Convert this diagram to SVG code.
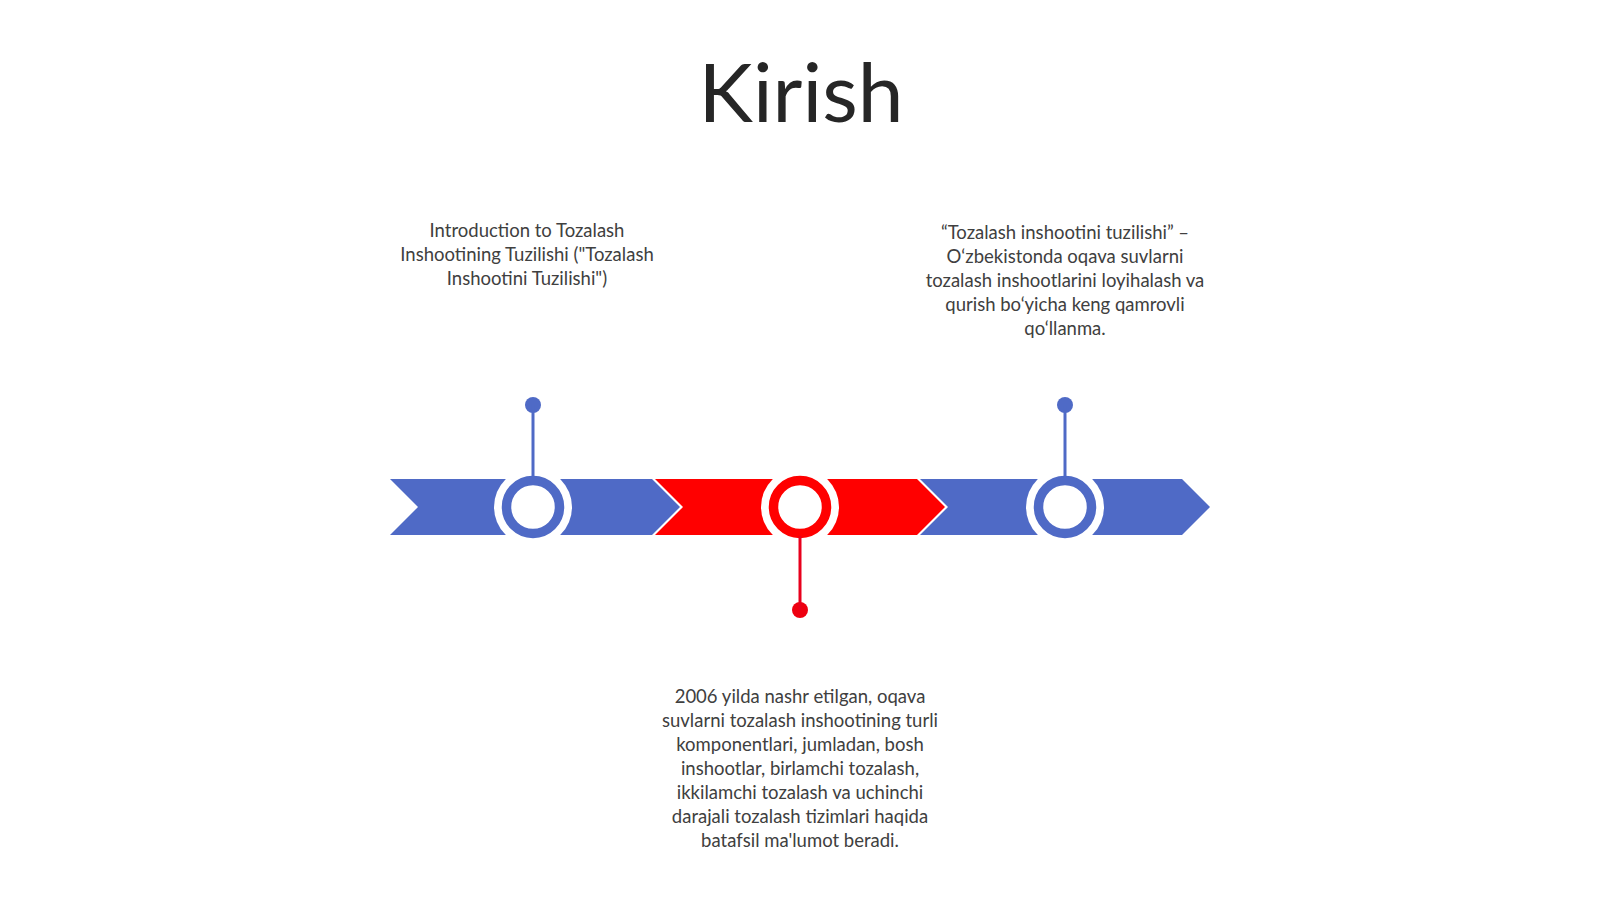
<svg xmlns="http://www.w3.org/2000/svg" width="1600" height="899" viewBox="0 0 1600 899">
<style>
.t{font-family:Lato,"Open Sans","Liberation Sans",sans-serif;font-size:18.5px;fill:#404040;text-anchor:middle}
.title{font-family:Lato,"Open Sans","Liberation Sans",sans-serif;font-size:82px;fill:#262626;text-anchor:middle}
.blue{fill:#4F6AC6}
.red{fill:#FF0000}
.halo{fill:#FFFFFF}
</style>
<rect width="1600" height="899" fill="#FFFFFF"/>
<text class="title" x="801" y="122">Kirish</text>
<g id="band">
<polygon class="blue" points="390,479 652,479 680,507 652,535 390,535 418,507"/>
<polygon class="red" points="655,479 917,479 945,507 917,535 655,535 683,507"/>
<polygon class="blue" points="920,479 1182,479 1210,507 1182,535 920,535 948,507"/>
</g>
<g id="node1">
<circle class="halo" cx="533" cy="507" r="39"/>
<circle cx="533" cy="507" r="26.5" fill="none" stroke="#4F6AC6" stroke-width="9.5"/>
<circle class="blue" cx="533" cy="405" r="8"/>
<text class="t" x="527" y="237">Introduction to Tozalash</text>
<text class="t" x="527" y="261">Inshootining Tuzilishi ("Tozalash</text>
<text class="t" x="527" y="285">Inshootini Tuzilishi")</text>
</g>
<g id="node2">
<circle class="halo" cx="800" cy="507" r="39"/>
<circle cx="800" cy="507" r="26.5" fill="none" stroke="#FF0000" stroke-width="9.5"/>
<circle cx="800" cy="610" r="8" fill="#EE0010"/>
<text class="t" x="800" y="703">2006 yilda nashr etilgan, oqava</text>
<text class="t" x="800" y="727">suvlarni tozalash inshootining turli</text>
<text class="t" x="800" y="751">komponentlari, jumladan, bosh</text>
<text class="t" x="800" y="775">inshootlar, birlamchi tozalash,</text>
<text class="t" x="800" y="799">ikkilamchi tozalash va uchinchi</text>
<text class="t" x="800" y="823">darajali tozalash tizimlari haqida</text>
<text class="t" x="800" y="847">batafsil ma'lumot beradi.</text>
</g>
<g id="node3">
<circle class="halo" cx="1065" cy="507" r="39"/>
<circle cx="1065" cy="507" r="26.5" fill="none" stroke="#4F6AC6" stroke-width="9.5"/>
<circle class="blue" cx="1065" cy="405" r="8"/>
<text class="t" x="1065" y="239">“Tozalash inshootini tuzilishi” –</text>
<text class="t" x="1065" y="263">O‘zbekistonda oqava suvlarni</text>
<text class="t" x="1065" y="287">tozalash inshootlarini loyihalash va</text>
<text class="t" x="1065" y="311">qurish bo‘yicha keng qamrovli</text>
<text class="t" x="1065" y="335">qo‘llanma.</text>
</g>
<g id="connectors">
<line x1="533" y1="405" x2="533" y2="478" stroke="#4F6AC6" stroke-width="3"/>
<line x1="800" y1="536" x2="800" y2="610" stroke="#E8001C" stroke-width="3"/>
<line x1="1065" y1="405" x2="1065" y2="478" stroke="#4F6AC6" stroke-width="3"/>
</g>
</svg>
